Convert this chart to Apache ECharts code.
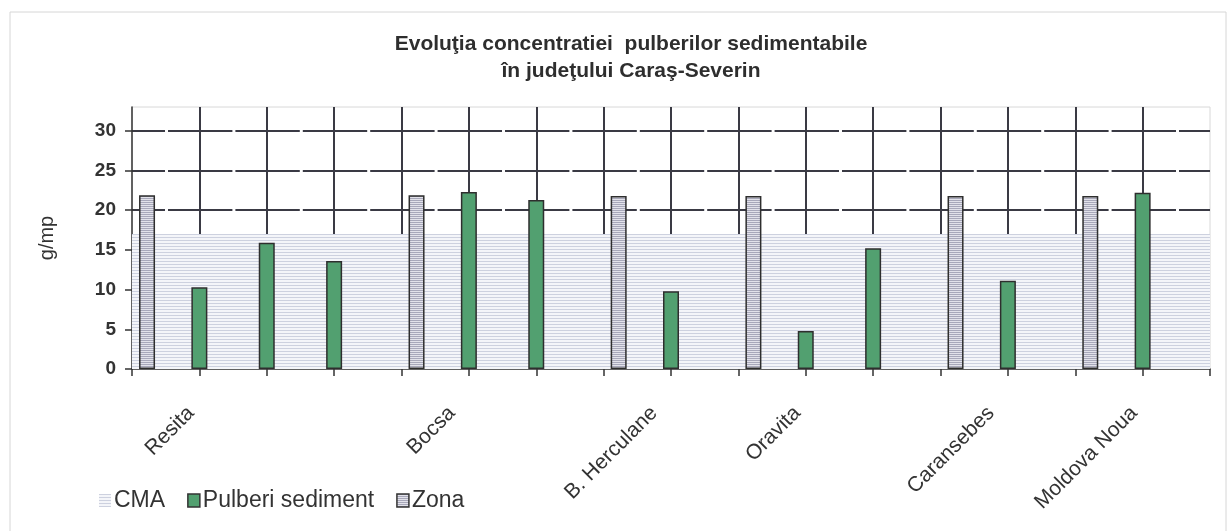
<!DOCTYPE html>
<html><head><meta charset="utf-8">
<script src="https://cdn.jsdelivr.net/npm/echarts@6/dist/echarts.min.js"></script>
<style>html,body{margin:0;padding:0;background:#fff}#c{width:1230px;height:531px}</style>
</head><body><div id="c"></div>
<script>
// ---- data ----
const slots = ['1','2','3','4','5','6','7','8','9','10','11','12','13','14','15','16','17'];
const zona    = [21.9, null, null, null, 21.9, null, null, 21.8, null, 21.8, null, null, 21.8, null, 21.8, null, null];
const pulberi = [null, 10.3, 15.9, 13.6, null, 22.3, 21.3, null, 9.8, null, 4.8, 15.2, null, 11.1, null, 22.2, null];
const cma     = [17, 17, 17, 17, 17, 17, 17, 17, 17, 17, 17, 17, 17, 17, 17, 17, 17];
const stations = ['Resita', 'Bocsa', 'B. Herculane', 'Oravita', 'Caransebes', 'Moldova Noua'];
const stationSlots = [7, 38, 62, 79, 102, 119]; // positions on a 129-step label scale
const yTicks = [0, 5, 10, 15, 20, 25, 30];

// ---- patterns ----
function stripes(base, line, h) {
  const c = document.createElement('canvas');
  c.width = 8; c.height = h;
  const g = c.getContext('2d');
  g.fillStyle = base; g.fillRect(0, 0, 8, h);
  g.fillStyle = line; g.fillRect(0, 0, 8, 1);
  return { image: c, repeat: 'repeat' };
}
const cmaFill = stripes('#f4f5f9', '#cdd1df', 3);
const zonaFill = stripes('#e2e2ea', '#a8a8ba', 2);

const labelCats = [];
for (let i = 0; i <= 128; i++) labelCats.push(String(i));
const labelMap = {};
stationSlots.forEach((s, k) => { labelMap[s] = stations[k]; });

const font = 'Liberation Sans, Arial, sans-serif';
const chart = echarts.init(document.getElementById('c'), null, { renderer: 'canvas' });
chart.setOption({
  animation: false,
  backgroundColor: '#fff',
  graphic: [{ type: 'rect', shape: { x: 10, y: 12, width: 1216, height: 530 }, style: { fill: 'none', stroke: '#d6d6d6', lineWidth: 1 }, silent: true }],
  title: {
    text: 'Evoluţia concentratiei  pulberilor sedimentabile\nîn judeţului Caraş-Severin',
    left: 626, top: 26, textAlign: 'center',
    textStyle: { fontFamily: font, fontSize: 21, fontWeight: 'bold', color: '#2e2e2e', lineHeight: 27 }
  },
  legend: {
    left: 94, top: 484, itemWidth: 12, itemHeight: 13, itemGap: 22,
    textStyle: { fontFamily: font, fontSize: 23, color: '#333', padding: [0, 0, 0, -2] },
    data: [
      { name: 'CMA', icon: 'rect', itemStyle: { color: cmaFill, borderWidth: 0 } },
      { name: 'Pulberi sediment', icon: 'rect', itemStyle: { color: '#52a070', borderColor: '#333', borderWidth: 1.5 } },
      { name: 'Zona', icon: 'rect', itemStyle: { color: zonaFill, borderColor: '#333', borderWidth: 1.5 } }
    ]
  },
  grid: { left: 132, right: 20, top: 107, bottom: 162, show: true, borderColor: '#d8d8d8', borderWidth: 1 },
  xAxis: [
    {
      type: 'category', data: slots, boundaryGap: false,
      axisLine: { lineStyle: { color: '#333', width: 1.5 } },
      axisTick: { show: true, length: 7, interval: 0, lineStyle: { color: '#333', width: 1.5 } },
      axisLabel: { show: false },
      splitLine: { show: true, interval: 0, showMinLine: false, showMaxLine: false, lineStyle: { color: '#3a3a44', width: 2 } }
    },
    {
      type: 'category', data: labelCats, boundaryGap: false, position: 'bottom',
      axisLine: { show: false }, axisTick: { show: false }, splitLine: { show: false },
      axisLabel: {
        interval: 0, rotate: 45, margin: 41, fontFamily: font, fontSize: 21, color: '#333',
        formatter: (v, i) => labelMap[i] || ''
      }
    }
  ],
  yAxis: {
    type: 'value', min: 0, max: 33, interval: 5,
    name: 'g/mp', nameLocation: 'middle', nameGap: 75, nameRotate: 90,
    nameTextStyle: { fontFamily: font, fontSize: 20, color: '#333' },
    axisLine: { show: true, lineStyle: { color: '#333', width: 1.5 } },
    axisTick: { show: true, length: 7, customValues: yTicks, lineStyle: { color: '#333', width: 1.5 } },
    axisLabel: { customValues: yTicks, margin: 16, fontFamily: font, fontSize: 19, fontWeight: 'bold', color: '#333' },
    splitLine: { show: true, showMinLine: false, showMaxLine: true, lineStyle: { color: '#3a3a44', width: 2, type: [64.4, 3], dashOffset: 31.4 } }
  },
  series: [
    { name: 'CMA', type: 'line', xAxisIndex: 0, data: cma, symbol: 'none', z: 1,
      lineStyle: { width: 0 }, areaStyle: { color: cmaFill, opacity: 1 }, silent: true },
    { id: 'spacer', type: 'bar', xAxisIndex: 0, data: [], barWidth: 16, barGap: '-6%' },
    { name: 'Pulberi sediment', type: 'bar', xAxisIndex: 0, data: pulberi, barWidth: 16, barGap: '-6%', z: 3,
      itemStyle: { color: '#52a070', borderColor: '#2e2e2e', borderWidth: 1.5 } },
    { name: 'Zona', type: 'bar', xAxisIndex: 0, data: zona, barWidth: 16, barGap: '-6%', z: 3,
      itemStyle: { color: zonaFill, borderColor: '#2e2e2e', borderWidth: 1.5 } }
  ]
});
</script>
</body></html>
